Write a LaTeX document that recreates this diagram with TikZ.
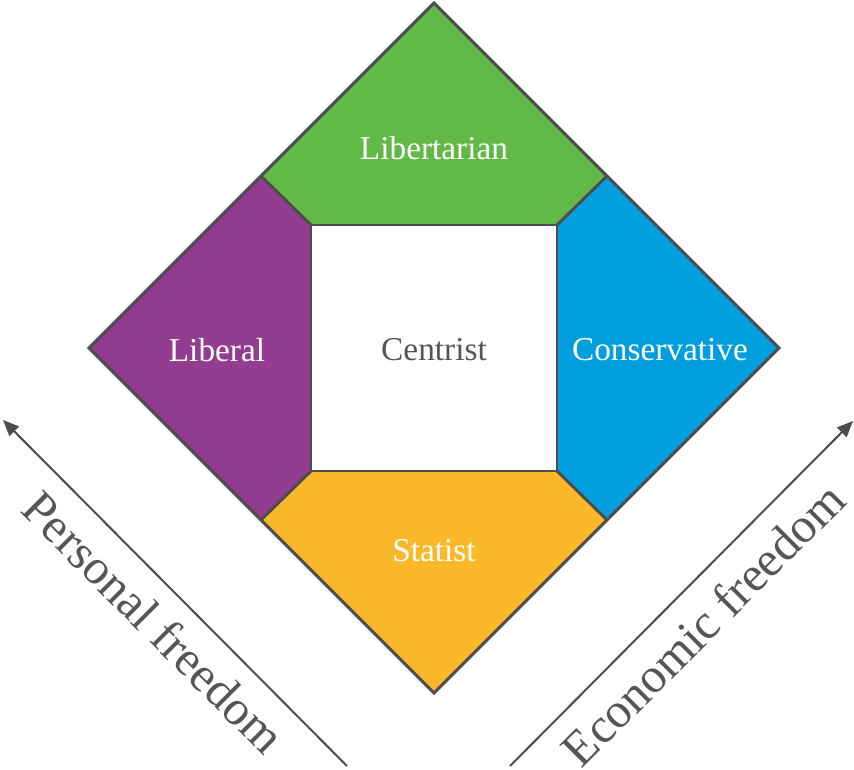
\documentclass[tikz,border=0pt]{standalone}
\usepackage{fontspec}
\setmainfont{Liberation Serif}
\usetikzlibrary{arrows.meta}
\definecolor{cgreen}{HTML}{62B946}
\definecolor{cpurple}{HTML}{933D91}
\definecolor{cblue}{HTML}{009EDC}
\definecolor{cyellow}{HTML}{FBB829}
\definecolor{cline}{HTML}{4D4D4D}
\definecolor{ctext}{HTML}{555555}
\begin{document}
\begin{tikzpicture}[x=0.75pt,y=-0.75pt,
  region/.style={draw=cline,line width=2.2pt,line join=miter},
  lab/.style={font=\fontsize{25}{30}\selectfont,text=white,inner sep=0pt},
  axislab/.style={font=\fontsize{37}{44}\selectfont,text=ctext,inner sep=0pt},
  axisarrow/.style={draw=cline,line width=1.5pt,-{Triangle[length=12pt,width=10pt]}}]
\useasboundingbox (0,0) rectangle (854,770);
\coordinate (T) at (434,3);
\coordinate (R) at (779,348);
\coordinate (B) at (434,693);
\coordinate (L) at (89,348);
\coordinate (i1) at (311,225);
\coordinate (i2) at (557,225);
\coordinate (i3) at (557,471);
\coordinate (i4) at (311,471);
\coordinate (e1) at (261,176);
\coordinate (e2) at (607,176);
\coordinate (e3) at (607,520);
\coordinate (e4) at (261,520);
\fill[cgreen] (e1) -- (T) -- (e2) -- (i2) -- (i1) -- cycle;
\fill[cblue] (i2) -- (e2) -- (R) -- (e3) -- (i3) -- cycle;
\fill[cyellow] (i4) -- (i3) -- (e3) -- (B) -- (e4) -- cycle;
\fill[cpurple] (e1) -- (i1) -- (i4) -- (e4) -- (L) -- cycle;
\fill[white] (i1) rectangle (i3);
\draw[region] (T) -- (R) -- (B) -- (L) -- cycle;
\draw[region] (i1) -- (i2) -- (i3) -- (i4) -- cycle;
\draw[region] (e1) -- (i1);
\draw[region] (e2) -- (i2);
\draw[region] (e3) -- (i3);
\draw[region] (e4) -- (i4);
\node[lab] (lib) at (434,148) {Libertarian};
\node[lab] (libl) at (217,350) {Liberal};
\node[lab,text=ctext] (cen) at (434,350) {Centrist};
\node[lab] (con) at (660,350) {Conservative};
\node[lab] (sta) at (434,551) {Statist};
\coordinate (a1s) at (347,766);
\coordinate (a1e) at (3,420);
\coordinate (a2s) at (510,766);
\coordinate (a2e) at (853,421);
\draw[axisarrow] (a1s) -- (a1e);
\draw[axisarrow] (a2s) -- (a2e);
\node[axislab,rotate=-45] (pf) at (154,622) {Personal freedom};
\node[axislab,rotate=45] (ef) at (703,624) {Economic freedom};
\end{tikzpicture}
\end{document}
